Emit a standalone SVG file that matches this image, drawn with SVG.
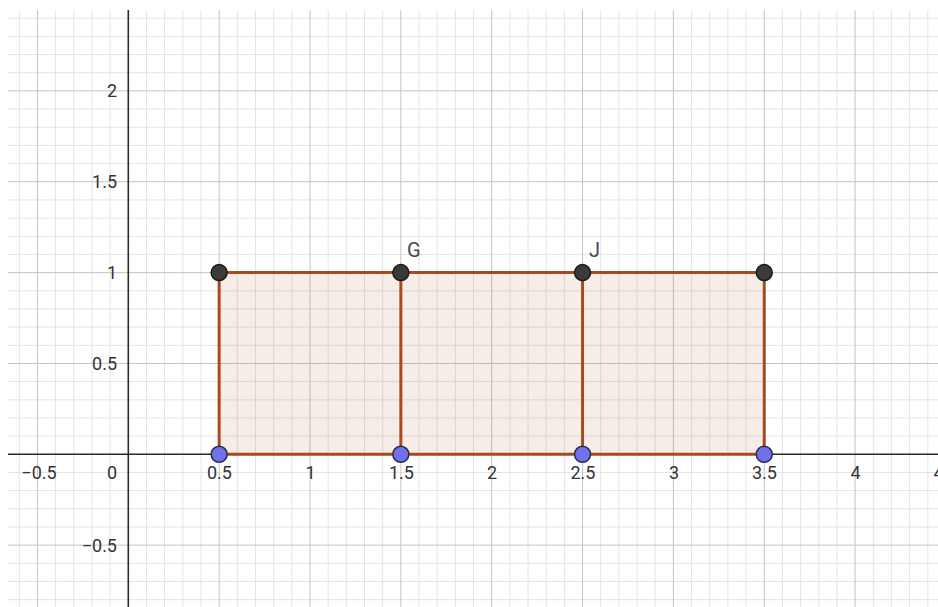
<svg xmlns="http://www.w3.org/2000/svg" width="938" height="607" viewBox="0 0 938 607">
<style>
.minor{stroke:#e4e4e4;stroke-width:1;fill:none}
.major{stroke:#c4c4c4;stroke-width:1;fill:none}
.axis{stroke:#2b2b2b;stroke-width:1.6;fill:none}
.tick{font-family:Roboto,"Liberation Sans",sans-serif;font-size:18px;fill:#333}
.edge{stroke:#a84a20;stroke-width:3;fill:none;stroke-linecap:round}
.top{fill:#3a3a3a;stroke:#1a1a1a;stroke-width:1.5}
.bot{fill:#7171ee;stroke:#2a2a4a;stroke-width:1.5}
.plabel{font-family:Roboto,"Liberation Sans",sans-serif;font-size:20px;fill:#4a4a4a}
</style>
<rect width="938" height="607" fill="#ffffff"/>
<g id="grid">
<path class="minor" d="M19.3 10V607M55.6 10V607M73.8 10V607M92 10V607M110.1 10V607M146.5 10V607M164.6 10V607M182.8 10V607M201 10V607M237.3 10V607M255.5 10V607M273.7 10V607M291.8 10V607M328.2 10V607M346.3 10V607M364.5 10V607M382.7 10V607M419 10V607M437.2 10V607M455.4 10V607M473.5 10V607M509.9 10V607M528 10V607M546.2 10V607M564.4 10V607M600.7 10V607M618.9 10V607M637.1 10V607M655.2 10V607M691.6 10V607M709.7 10V607M727.9 10V607M746.1 10V607M782.4 10V607M800.6 10V607M818.8 10V607M836.9 10V607M873.3 10V607M891.4 10V607M909.6 10V607M927.8 10V607M8 18.2H938M8 36.4H938M8 54.6H938M8 72.7H938M8 109.1H938M8 127.2H938M8 145.4H938M8 163.6H938M8 199.9H938M8 218.1H938M8 236.3H938M8 254.4H938M8 290.8H938M8 308.9H938M8 327.1H938M8 345.3H938M8 381.6H938M8 399.8H938M8 418H938M8 436.1H938M8 472.5H938M8 490.6H938M8 508.8H938M8 527H938M8 563.3H938M8 581.5H938M8 599.7H938"/>
<path class="major" d="M37.45 10V607M219.15 10V607M310 10V607M400.85 10V607M491.7 10V607M582.55 10V607M673.4 10V607M764.25 10V607M855.1 10V607M8 90.9H938M8 181.75H938M8 272.6H938M8 363.45H938M8 545.15H938"/>
</g>
<g id="shaded-region">
<rect x="219.15" y="272.6" width="545.1" height="181.7" fill="#a84a20" fill-opacity="0.1"/>
</g>
<g id="axes">
<path class="axis" d="M8 454.3H938M128.3 10V607"/>
<g class="tick" text-anchor="middle">
<text x="39" y="479">−0.5</text>
<text x="219.5" y="479">0.5</text>
<text x="310.5" y="479">1</text>
<text x="401.5" y="479">1.5</text>
<text x="492" y="479">2</text>
<text x="583" y="479">2.5</text>
<text x="674" y="479">3</text>
<text x="764.5" y="479">3.5</text>
<text x="855.5" y="479">4</text>
<text x="946" y="479">4.5</text>
</g>
<g class="tick" text-anchor="end">
<text x="117" y="479">0</text>
<text x="117" y="97">2</text>
<text x="117" y="188">1.5</text>
<text x="117" y="279">1</text>
<text x="117" y="370">0.5</text>
<text x="117" y="552">−0.5</text>
</g>
</g>
<g id="connectors">
<path class="edge" d="M219.15 272.6H764.25"/>
<path class="edge" d="M219.15 454.3H764.25"/>
<path class="edge" d="M219.15 272.6V454.3"/>
<path class="edge" d="M400.85 272.6V454.3"/>
<path class="edge" d="M582.55 272.6V454.3"/>
<path class="edge" d="M764.25 272.6V454.3"/>
</g>
<g id="point-A"><circle class="top" cx="219.15" cy="272.6" r="8"/></g>
<g id="point-G"><circle class="top" cx="400.85" cy="272.6" r="8"/><text class="plabel" x="407" y="257">G</text></g>
<g id="point-J"><circle class="top" cx="582.55" cy="272.6" r="8"/><text class="plabel" x="589" y="257">J</text></g>
<g id="point-D"><circle class="top" cx="764.25" cy="272.6" r="8"/></g>
<g id="point-E"><circle class="bot" cx="219.15" cy="454.3" r="8"/></g>
<g id="point-F"><circle class="bot" cx="400.85" cy="454.3" r="8"/></g>
<g id="point-H"><circle class="bot" cx="582.55" cy="454.3" r="8"/></g>
<g id="point-I"><circle class="bot" cx="764.25" cy="454.3" r="8"/></g>
</svg>
